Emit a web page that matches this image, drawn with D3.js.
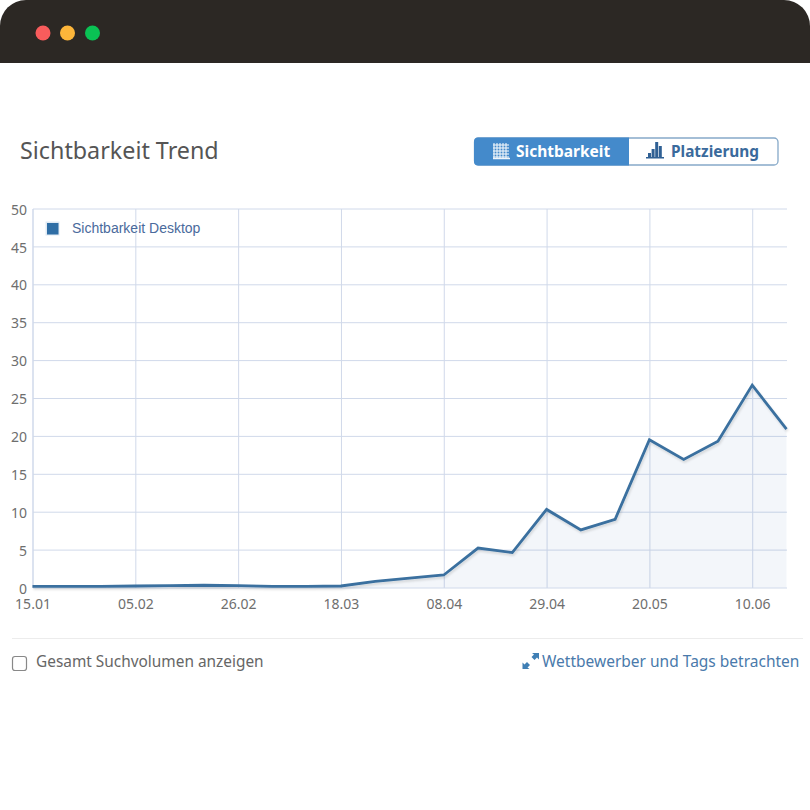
<!DOCTYPE html>
<html>
<head>
<meta charset="utf-8">
<script src="https://cdnjs.cloudflare.com/ajax/libs/d3/7.8.5/d3.min.js"></script>
<style>
html, body { margin: 0; padding: 0; background: #fff; }
svg { display: block; }
text { font-family: "Noto Sans", sans-serif; }
.tick text { font-size: 14px; fill: #6e6e6e; }
</style>
</head>
<body>
<svg id="chart" width="810" height="810"></svg>
<script>
// weekly dates, only some of them get a label
var dates = ['15.01','22.01','29.01','05.02','12.02','19.02','26.02','05.03','12.03','18.03','25.03','01.04',
	'08.04','15.04','22.04','29.04','06.05','13.05','20.05','27.05','03.06','10.06','17.06'];
var dateTicks = ['15.01','05.02','26.02','18.03','08.04','29.04','20.05','10.06'];
var desktop = [0.15,0.15,0.15,0.2,0.25,0.3,0.25,0.15,0.15,0.2,0.8,1.25,1.65,5.2,4.6,10.3,7.6,9.0,19.5,16.9,19.3,26.7,20.9];
var valueTicks = [0,5,10,15,20,25,30,35,40,45,50];
var dots = ['#f85c5c','#fdb63a','#0ac254'];

var svg = d3.select('#chart');

var defs = svg.append('defs');
var shadow = defs.append('filter').attr('id','lineShadow').attr('x','-5%').attr('y','-10%').attr('width','110%').attr('height','125%');
shadow.append('feDropShadow').attr('dx',1).attr('dy',2).attr('stdDeviation',1.2).attr('flood-color','#000').attr('flood-opacity',0.13);

// ------------------------ WINDOW BAR ------------------------
svg.append('path')
	.attr('d','M0,63 V26 A26,26 0 0 1 26,0 H784 A26,26 0 0 1 810,26 V63 Z')
	.attr('fill','#2c2824');
svg.selectAll('.dot').data(dots).enter().append('circle')
	.attr('class','dot')
	.attr('cx', function(d,i) { return [43,67.5,92.5][i]; })
	.attr('cy',33)
	.attr('r',7.5)
	.attr('fill', function(d) { return d; });

// ------------------------ HEADER ------------------------
svg.append('text').attr('x',20).attr('y',159).attr('font-size',23.3).attr('fill','#555').text('Sichtbarkeit Trend');

svg.append('rect').attr('x',474.5).attr('y',138).attr('width',303.5).attr('height',27).attr('rx',4)
	.attr('fill','#fff').attr('stroke','#86a9c9').attr('stroke-width',1.3);
svg.append('path').attr('d','M629,137.5 H478 A4,4 0 0 0 474,141.5 V161.5 A4,4 0 0 0 478,165.5 H629 Z').attr('fill','#448acb');

// grid icon on the active button
var gridIcon = svg.append('g').attr('stroke','#fff').attr('stroke-width',1.1).attr('fill','none').attr('opacity',0.92);
d3.range(0,5).forEach(function(i) {
	gridIcon.append('line').attr('x1',493).attr('x2',509).attr('y1',145+i*3).attr('y2',145+i*3);
	gridIcon.append('line').attr('y1',143).attr('y2',159).attr('x1',494+i*3).attr('x2',494+i*3);
});
gridIcon.append('line').attr('x1',493).attr('x2',510).attr('y1',158.5).attr('y2',158.5).attr('stroke-width',1.5);

svg.append('text').attr('x',516).attr('y',157).attr('font-size',15.5).attr('font-weight',700).attr('fill','#fff').text('Sichtbarkeit');

// small bars icon on the other button
svg.selectAll('.barIcon').data([4,8,15,11]).enter().append('rect')
	.attr('class','barIcon')
	.attr('x', function(d,i) { return 648 + i*3.6; })
	.attr('y', function(d) { return 157 - d; })
	.attr('width',3)
	.attr('height', function(d) { return d; })
	.attr('fill','#2f6094');
svg.append('rect').attr('x',646).attr('y',157).attr('width',18).attr('height',1.5).attr('fill','#2f6094');
svg.append('text').attr('x',671).attr('y',157).attr('font-size',15.4).attr('font-weight',700).attr('fill','#3a6a9c').text('Platzierung');

// ------------------------ CHART ------------------------
var x = d3.scalePoint().domain(dates).range([32.5,786.5]);
var y = d3.scaleLinear().domain([0,50]).range([587.5,208.5]);

var xAxis = svg.append('g')
	.attr('transform','translate(0,588)')
	.call(d3.axisBottom(x).tickValues(dateTicks).tickSize(-379).tickPadding(11));
var yAxis = svg.append('g')
	.attr('transform','translate(33,0)')
	.call(d3.axisLeft(y).tickValues(valueTicks).tickSize(-754).tickPadding(6));

[xAxis, yAxis].forEach(function(ax) {
	ax.select('.domain').remove();
	ax.selectAll('.tick line').attr('stroke','#d0d9ea').attr('stroke-width',1);
});
// labels sit a bit lower than the gridline in the original
yAxis.selectAll('.tick text').attr('dy','0.4em');

// left edge of the plot
svg.append('line').attr('x1',33).attr('x2',33).attr('y1',209).attr('y2',588).attr('stroke','#d0d9ea');

var area = d3.area()
	.x(function(d,i) { return x(dates[i]); })
	.y0(y(0))
	.y1(function(d) { return y(d); });
var line = d3.line()
	.x(function(d,i) { return x(dates[i]); })
	.y(function(d) { return y(d); });

svg.append('path').datum(desktop).attr('d',area).attr('fill','#2f6ea5').attr('fill-opacity',0.06);
svg.append('path').datum(desktop).attr('d',line)
	.attr('fill','none')
	.attr('stroke','#3a709f')
	.attr('stroke-width',2.8)
	.attr('stroke-linejoin','miter')
	.attr('filter','url(#lineShadow)');

// ------------------------ LEGEND ------------------------
svg.append('rect').attr('x',45.5).attr('y',221.5).attr('width',14).attr('height',14).attr('fill','#dfe9f3');
svg.append('rect').attr('x',47).attr('y',223).attr('width',11.5).attr('height',11.5).attr('fill','#2f6ea5');
svg.append('text').attr('x',72).attr('y',233).attr('font-size',14)
	.style('font-family','"Liberation Sans", sans-serif').attr('fill','#4a6a9c').text('Sichtbarkeit Desktop');

// ------------------------ FOOTER ------------------------
svg.append('line').attr('x1',12).attr('x2',803).attr('y1',638.5).attr('y2',638.5).attr('stroke','#ececec');
svg.append('rect').attr('x',12.5).attr('y',656.5).attr('width',14).attr('height',14).attr('rx',2.5)
	.attr('fill','#fff').attr('stroke','#888').attr('stroke-width',1.2);
svg.append('text').attr('x',36).attr('y',667).attr('font-size',15.4).attr('fill','#666').text('Gesamt Suchvolumen anzeigen');

// expand arrows
svg.append('path').attr('d','M522.5,669 V662.5 L524.5,664.5 L527,662 L530,665 L527.5,667.5 L529.5,669 Z').attr('fill','#3f7fb5');
svg.append('path').attr('d','M539,653 V659.5 L537,657.5 L534.5,660 L531.5,657 L534,654.5 L532,653 Z').attr('fill','#3f7fb5');
svg.append('text').attr('x',542).attr('y',667).attr('font-size',15.5).attr('fill','#4a7aab').text('Wettbewerber und Tags betrachten');
</script>
</body>
</html>
